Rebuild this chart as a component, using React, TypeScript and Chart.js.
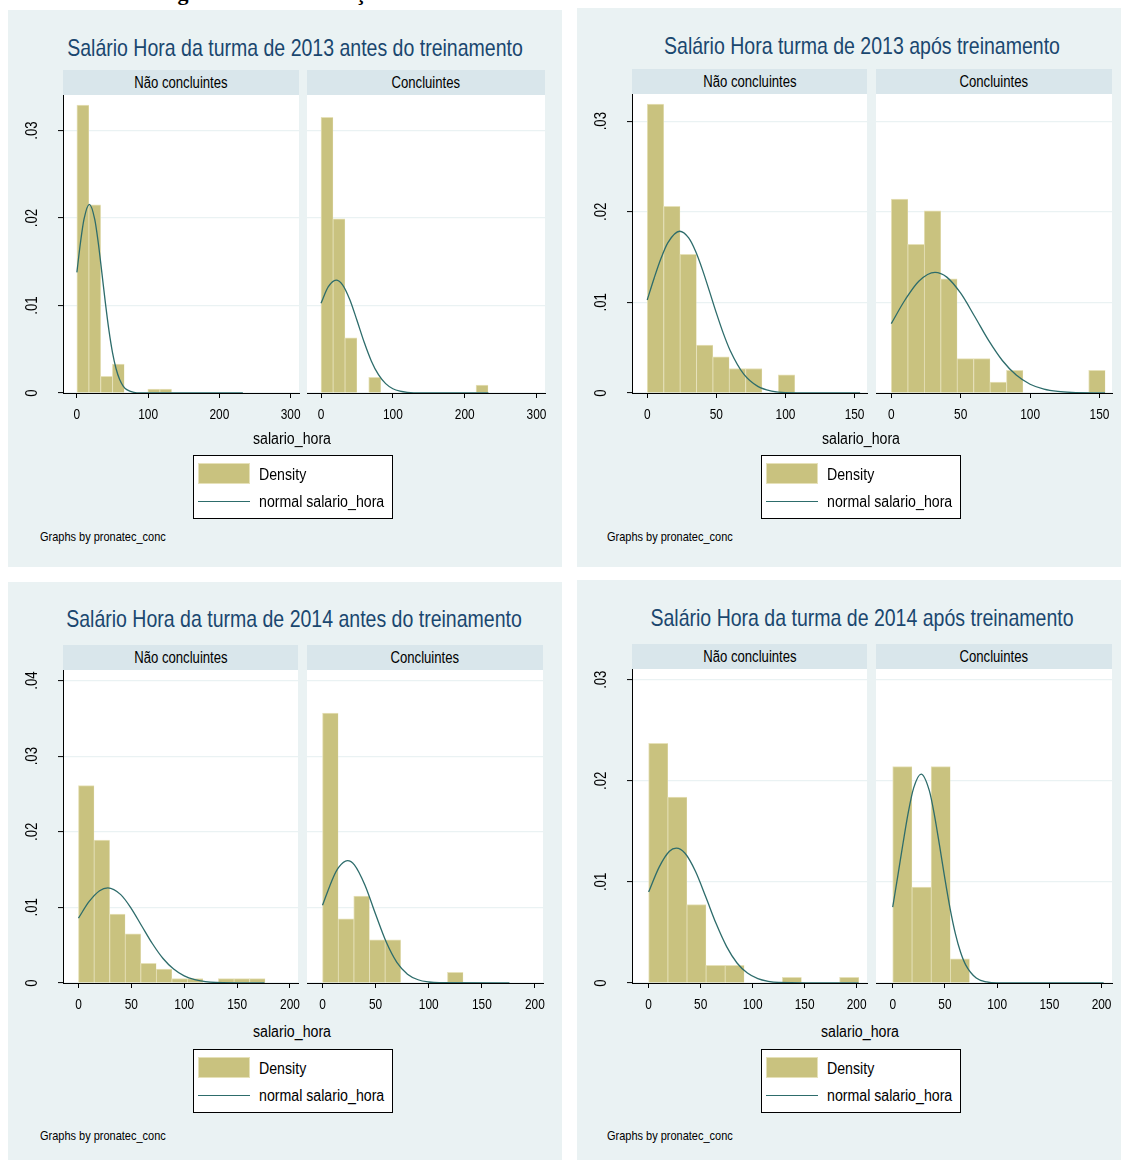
import React, { useEffect, useRef } from "react";
import { Chart, registerables } from "chart.js";

Chart.register(...registerables);

const FONT = '"Liberation Sans", Arial, sans-serif';
const NARROW = 0.82; // Arial Narrow look from Liberation Sans
const BAR_FILL = "#C9C27F";
const BAR_EDGE = "#E6E1B9";
const LINE_COLOR = "#2D6C6B";
const TITLE_COLOR = "#1A476F";
const PANEL_BG = "#EAF2F3";
const STRIP_BG = "#D9E6EB";
const GRID_COLOR = "#EAF2F3";

// ---------- text ----------
const PANEL_TITLES = [
  "Salário Hora da turma de 2013 antes do treinamento",
  "Salário Hora turma de 2013 após treinamento",
  "Salário Hora da turma de 2014 antes do treinamento",
  "Salário Hora da turma de 2014 após treinamento",
];
const GROUPS = ["Não concluintes", "Concluintes"];
const X_TITLE = "salario_hora";
const LEGEND_LABELS = ["Density", "normal salario_hora"];
const NOTE = "Graphs by pronatec_conc";

// ---------- axes ----------
const X_TICKS_2013_ANTES = [0, 100, 200, 300];
const X_TICKS_2013_APOS = [0, 50, 100, 150];
const X_TICKS_2014 = [0, 50, 100, 150, 200];
const Y_TICKS_3 = [0, 0.01, 0.02, 0.03];
const Y_LABELS_3 = ["0", ".01", ".02", ".03"];
const Y_TICKS_4 = [0, 0.01, 0.02, 0.03, 0.04];
const Y_LABELS_4 = ["0", ".01", ".02", ".03", ".04"];

// ---------- 2013 antes ----------
const BINS_2013_ANTES = [0, 16.6, 33.2, 49.8, 66.4, 83, 99.6, 116.2, 132.8, 149.4, 166, 182.6, 199.2, 215.8];
const BIN_W_2013_ANTES = 16.6;
const DENS_2013_ANTES_NC = [0.0329, 0.0215, 0.0019, 0.0033, 0, 0, 0.00046, 0.00046, 0, 0, 0, 0, 0, 0];
const DENS_2013_ANTES_C = [0.0315, 0.0199, 0.0063, 0, 0.0018, 0, 0, 0, 0, 0, 0, 0, 0, 0.0009];
const NORM_X_2013_ANTES_NC = [0, 5, 10, 17.5, 25, 30, 35, 40, 45, 50, 55, 60, 65, 70, 80, 90, 233];
const NORM_Y_2013_ANTES_NC = [0.01379, 0.01717, 0.01987, 0.02157, 0.01987, 0.01717, 0.01379, 0.0103, 0.00715, 0.00461, 0.00277, 0.00154, 0.0008, 0.000385, 0.00007, 0.00001, 0];
const NORM_X_2013_ANTES_C = [0, 10, 21, 30, 40, 50, 60, 70, 80, 90, 100, 110, 120, 140, 233];
const NORM_Y_2013_ANTES_C = [0.01025, 0.01212, 0.01291, 0.01237, 0.01069, 0.00831, 0.00582, 0.00367, 0.00209, 0.00107, 0.00049, 0.000204, 0.000076, 0.0000078, 0];

// ---------- 2013 após ----------
const BINS_2013_APOS = [0, 11.85, 23.7, 35.55, 47.4, 59.25, 71.1, 82.95, 94.8, 106.65, 118.5, 130.35, 142.2];
const BIN_W_2013_APOS = 11.85;
const DENS_2013_APOS_NC = [0.0319, 0.0206, 0.0153, 0.0053, 0.004, 0.0027, 0.0027, 0, 0.002, 0, 0, 0, 0];
const DENS_2013_APOS_C = [0.0214, 0.0164, 0.0201, 0.0126, 0.0038, 0.0038, 0.0012, 0.0025, 0, 0, 0, 0, 0.0025];
const NORM_X_2013_APOS_NC = [0, 5, 10, 15, 23.5, 30, 35, 40, 45, 50, 55, 60, 70, 80, 90, 100, 154];
const NORM_Y_2013_APOS_NC = [0.01027, 0.01267, 0.01487, 0.0166, 0.01785, 0.01711, 0.01564, 0.01359, 0.01124, 0.00884, 0.00661, 0.0047, 0.00205, 0.00073, 0.000213, 0.000051, 0];
const NORM_X_2013_APOS_C = [0, 10, 20, 31.5, 40, 50, 60, 70, 80, 90, 100, 110, 120, 130, 154];
const NORM_Y_2013_APOS_C = [0.00766, 0.01029, 0.01237, 0.01332, 0.01279, 0.01101, 0.00847, 0.00583, 0.00359, 0.00198, 0.00097, 0.00043, 0.00017, 0.00006, 0.000003];

// ---------- 2014 antes ----------
const BINS_2014_ANTES = [0, 14.7, 29.4, 44.1, 58.8, 73.5, 88.2, 102.9, 117.6, 132.3, 147, 161.7];
const BIN_W_2014_ANTES = 14.7;
const DENS_2014_ANTES_NC = [0.0261, 0.0189, 0.0091, 0.0065, 0.0026, 0.00185, 0.00057, 0.00057, 0, 0.00057, 0.00057, 0.00057];
const DENS_2014_ANTES_C = [0.0357, 0.0085, 0.0115, 0.0057, 0.0057, 0, 0, 0, 0.0014, 0, 0, 0];
const NORM_X_2014_ANTES_NC = [0, 10, 20, 27.8, 40, 50, 60, 70, 80, 90, 100, 110, 120, 130, 176];
const NORM_Y_2014_ANTES_NC = [0.00857, 0.01075, 0.01221, 0.012585, 0.01169, 0.00985, 0.00751, 0.00519, 0.00324, 0.00184, 0.00094, 0.00044, 0.000183, 0.00007, 0];
const NORM_X_2014_ANTES_C = [0, 10, 15, 23.5, 30, 40, 50, 60, 70, 80, 90, 100, 110, 176];
const NORM_Y_2014_ANTES_C = [0.01027, 0.01393, 0.01525, 0.01618, 0.01563, 0.01293, 0.00908, 0.00541, 0.00273, 0.00117, 0.00043, 0.00013, 0.000034, 0];

// ---------- 2014 após ----------
const BINS_2014_APOS = [0, 18.36, 36.72, 55.08, 73.44, 91.8, 110.16, 128.52, 146.88, 165.24, 183.6];
const BIN_W_2014_APOS = 18.36;
const DENS_2014_APOS_NC = [0.0237, 0.0184, 0.00775, 0.00174, 0.00174, 0, 0, 0.00055, 0, 0, 0.00055];
const DENS_2014_APOS_C = [0.0214, 0.0095, 0.0214, 0.0024, 0, 0, 0, 0, 0, 0, 0];
const NORM_X_2014_APOS_NC = [0, 10, 20, 26.6, 35, 45, 55, 65, 75, 85, 95, 105, 115, 125, 202];
const NORM_Y_2014_APOS_NC = [0.00899, 0.01144, 0.01303, 0.01335, 0.01283, 0.01105, 0.0085, 0.00585, 0.0036, 0.00198, 0.00098, 0.00043, 0.00017, 0.00006, 0];
const NORM_X_2014_APOS_C = [0, 5, 10, 15, 20, 27.2, 35, 40, 45, 50, 55, 60, 65, 70, 80, 90, 100, 202];
const NORM_Y_2014_APOS_C = [0.0075, 0.01067, 0.0139, 0.01693, 0.01928, 0.02067, 0.01905, 0.01659, 0.01351, 0.01029, 0.00733, 0.00488, 0.00304, 0.00177, 0.00049, 0.000104, 0.0000168, 0];

// ---------- layout (positions only) ----------
type Layout = {
  bg: { x: number; y: number; w: number; h: number };
  titleCx: number; titleCy: number;
  plotTop: number; plotBottom: number;
  nc: [number, number]; c: [number, number];
  xMin: number; xMax: number; yMax: number;
  axisCx: number; axisCy: number;
  legend: { x: number; y: number };
  noteX: number; noteCy: number;
};

const LAYOUTS: Layout[] = [
  { bg: { x: 8, y: 10, w: 554, h: 557 }, titleCx: 295, titleCy: 47, plotTop: 95, plotBottom: 393, nc: [63, 299], c: [307, 545], xMin: -19.5, xMax: 311.8, yMax: 0.03406, axisCx: 292, axisCy: 438, legend: { x: 193, y: 455 }, noteX: 40, noteCy: 536 },
  { bg: { x: 577, y: 8, w: 544, h: 559 }, titleCx: 862, titleCy: 45, plotTop: 94, plotBottom: 393, nc: [632, 867], c: [876, 1112], xMin: -11, xMax: 159, yMax: 0.033, axisCx: 861, axisCy: 438, legend: { x: 761, y: 455 }, noteX: 607, noteCy: 536 },
  { bg: { x: 8, y: 582, w: 554, h: 578 }, titleCx: 294, titleCy: 618, plotTop: 670, plotBottom: 983, nc: [63, 298], c: [307, 543], xMin: -14.6, xMax: 207.6, yMax: 0.0414, axisCx: 292, axisCy: 1031, legend: { x: 193, y: 1049 }, noteX: 40, noteCy: 1135 },
  { bg: { x: 577, y: 580, w: 544, h: 580 }, titleCx: 862, titleCy: 617, plotTop: 669, plotBottom: 983, nc: [632, 867], c: [876, 1112], xMin: -16, xMax: 210, yMax: 0.03106, axisCx: 860, axisCy: 1031, legend: { x: 761, y: 1049 }, noteX: 607, noteCy: 1135 },
];

type Series = { bins: number[]; binW: number; dens: number[]; nx: number[]; ny: number[] };
type PanelData = { xTicks: number[]; yTicks: number[]; yLabels: string[]; nc: Series; c: Series };

const PANEL_DATA: PanelData[] = [
  {
    xTicks: X_TICKS_2013_ANTES, yTicks: Y_TICKS_3, yLabels: Y_LABELS_3,
    nc: { bins: BINS_2013_ANTES, binW: BIN_W_2013_ANTES, dens: DENS_2013_ANTES_NC, nx: NORM_X_2013_ANTES_NC, ny: NORM_Y_2013_ANTES_NC },
    c: { bins: BINS_2013_ANTES, binW: BIN_W_2013_ANTES, dens: DENS_2013_ANTES_C, nx: NORM_X_2013_ANTES_C, ny: NORM_Y_2013_ANTES_C },
  },
  {
    xTicks: X_TICKS_2013_APOS, yTicks: Y_TICKS_3, yLabels: Y_LABELS_3,
    nc: { bins: BINS_2013_APOS, binW: BIN_W_2013_APOS, dens: DENS_2013_APOS_NC, nx: NORM_X_2013_APOS_NC, ny: NORM_Y_2013_APOS_NC },
    c: { bins: BINS_2013_APOS, binW: BIN_W_2013_APOS, dens: DENS_2013_APOS_C, nx: NORM_X_2013_APOS_C, ny: NORM_Y_2013_APOS_C },
  },
  {
    xTicks: X_TICKS_2014, yTicks: Y_TICKS_4, yLabels: Y_LABELS_4,
    nc: { bins: BINS_2014_ANTES, binW: BIN_W_2014_ANTES, dens: DENS_2014_ANTES_NC, nx: NORM_X_2014_ANTES_NC, ny: NORM_Y_2014_ANTES_NC },
    c: { bins: BINS_2014_ANTES, binW: BIN_W_2014_ANTES, dens: DENS_2014_ANTES_C, nx: NORM_X_2014_ANTES_C, ny: NORM_Y_2014_ANTES_C },
  },
  {
    xTicks: X_TICKS_2014, yTicks: Y_TICKS_3, yLabels: Y_LABELS_3,
    nc: { bins: BINS_2014_APOS, binW: BIN_W_2014_APOS, dens: DENS_2014_APOS_NC, nx: NORM_X_2014_APOS_NC, ny: NORM_Y_2014_APOS_NC },
    c: { bins: BINS_2014_APOS, binW: BIN_W_2014_APOS, dens: DENS_2014_APOS_C, nx: NORM_X_2014_APOS_C, ny: NORM_Y_2014_APOS_C },
  },
];

const plotBg = {
  id: "plotBg",
  beforeDraw(chart: any) {
    const { ctx, chartArea: a } = chart;
    ctx.save();
    ctx.fillStyle = "#ffffff";
    ctx.fillRect(a.left, a.top, a.right - a.left, a.bottom - a.top);
    ctx.restore();
  },
};

// Stata-like narrow tick labels, placed with the chart's own scales
function makeTickLabelPlugin(xTicks: number[], yTicks: number[], yLabels: string[], showY: boolean) {
  const X_SIZE = 14.5;
  const Y_SIZE = 16;
  return {
    id: "narrowTickLabels",
    afterDraw(chart: any) {
      const { ctx, chartArea } = chart;
      const xs = chart.scales.x;
      const ys = chart.scales.y;
      ctx.save();
      ctx.fillStyle = "#000";
      ctx.textAlign = "center";
      ctx.textBaseline = "alphabetic";
      ctx.font = `${X_SIZE}px ${FONT}`;
      xTicks.forEach((v) => {
        const px = xs.getPixelForValue(v);
        ctx.save();
        ctx.translate(px, chartArea.bottom + 25.5);
        ctx.scale(NARROW, 1);
        ctx.fillText(String(v), 0, 0);
        ctx.restore();
      });
      if (showY) {
        ctx.font = `${Y_SIZE}px ${FONT}`;
        yTicks.forEach((v, i) => {
          const py = ys.getPixelForValue(v);
          ctx.save();
          ctx.translate(chartArea.left - 26, py);
          ctx.rotate(-Math.PI / 2);
          ctx.scale(NARROW, 1);
          ctx.fillText(yLabels[i], 0, 0);
          ctx.restore();
        });
      }
      ctx.restore();
    },
  };
}

const PAD_L = 58, PAD_R = 26, PAD_T = 20, PAD_B = 34;

function SubPlot(props: {
  left: number; right: number; top: number; bottom: number; showY: boolean;
  xMin: number; xMax: number; yMax: number; xTicks: number[]; yTicks: number[]; yLabels: string[]; s: Series;
}) {
  const ref = useRef<HTMLCanvasElement>(null);
  const { left, right, top, bottom, showY, xMin, xMax, yMax, xTicks, yTicks, yLabels, s } = props;
  const padL = showY ? PAD_L : 0;
  const w = right - left + padL + PAD_R;
  const h = bottom - top + PAD_T + PAD_B;

  useEffect(() => {
    if (!ref.current) return;
    const chart = new Chart(ref.current, {
      type: "bar",
      data: {
        datasets: [
          {
            type: "line",
            data: s.nx.map((x, i) => ({ x, y: s.ny[i] })),
            borderColor: LINE_COLOR,
            borderWidth: 1.3,
            pointRadius: 0,
            fill: false,
            cubicInterpolationMode: "monotone",
            order: 0,
          } as any,
          {
            type: "bar",
            data: s.bins.map((b, i) => ({ x: b + s.binW / 2, y: s.dens[i] })),
            backgroundColor: BAR_FILL,
            borderColor: BAR_EDGE,
            borderWidth: { top: 1, left: 1, right: 0.5, bottom: 0 },
            borderSkipped: false,
            barPercentage: 1,
            categoryPercentage: 1,
            order: 1,
          } as any,
        ],
      },
      options: {
        responsive: false,
        maintainAspectRatio: false,
        animation: false,
        events: [],
        layout: { padding: { left: 0, right: PAD_R, top: PAD_T, bottom: 0 } },
        plugins: { legend: { display: false }, tooltip: { enabled: false }, title: { display: false } },
        scales: {
          x: {
            type: "linear",
            min: xMin,
            max: xMax,
            offset: false,
            afterBuildTicks: (sc: any) => { sc.ticks = xTicks.map((v) => ({ value: v })); },
            afterFit: (sc: any) => { sc.height = PAD_B; },
            grid: { display: true, drawOnChartArea: false, drawTicks: true, tickLength: 5, tickColor: "#000", tickWidth: 1, offset: false },
            border: { display: true, color: "#000", width: 1, z: 1 },
            ticks: { display: false },
          } as any,
          y: {
            type: "linear",
            min: 0,
            max: yMax,
            afterBuildTicks: (sc: any) => { sc.ticks = yTicks.map((v) => ({ value: v })); },
            afterFit: (sc: any) => { sc.width = padL; },
            grid: { color: GRID_COLOR, lineWidth: 1.2, drawTicks: showY, tickLength: 5, tickColor: "#000", tickWidth: 1 },
            border: { display: showY, color: "#000", width: 1, z: 1 },
            ticks: { display: false },
          } as any,
        },
      },
      plugins: [plotBg, makeTickLabelPlugin(xTicks, yTicks, yLabels, showY)],
    });
    return () => chart.destroy();
  }, []);

  return (
    <canvas
      ref={ref}
      width={w}
      height={h}
      style={{ position: "absolute", left: left - padL, top: top - PAD_T, width: w, height: h }}
    />
  );
}

function Txt(props: { x: number; cy: number; size: number; color?: string; center?: boolean; children: React.ReactNode }) {
  const lh = Math.round(props.size * 1.4);
  return (
    <div
      style={{
        position: "absolute",
        left: props.x,
        top: props.cy - lh / 2,
        height: lh,
        lineHeight: lh + "px",
        fontSize: props.size,
        color: props.color || "#000",
        fontFamily: FONT,
        whiteSpace: "nowrap",
        transformOrigin: props.center ? "center center" : "left center",
        transform: props.center ? `translateX(-50%) scaleX(${NARROW})` : `scaleX(${NARROW})`,
      }}
    >
      {props.children}
    </div>
  );
}

function Panel({ idx }: { idx: number }) {
  const L = LAYOUTS[idx];
  const D = PANEL_DATA[idx];
  const common = { top: L.plotTop, bottom: L.plotBottom, xMin: L.xMin, xMax: L.xMax, yMax: L.yMax, xTicks: D.xTicks, yTicks: D.yTicks, yLabels: D.yLabels };
  const strips: [number, number, string][] = [
    [L.nc[0], L.nc[1], GROUPS[0]],
    [L.c[0], L.c[1], GROUPS[1]],
  ];
  return (
    <>
      <div style={{ position: "absolute", left: L.bg.x, top: L.bg.y, width: L.bg.w, height: L.bg.h, background: PANEL_BG }} />
      <Txt x={L.titleCx} cy={L.titleCy} size={23.8} color={TITLE_COLOR} center>{PANEL_TITLES[idx]}</Txt>
      {strips.map(([a, b, label], i) => (
        <div
          key={i}
          style={{
            position: "absolute", left: a, top: L.plotTop - 25, width: b - a, height: 25,
            background: STRIP_BG, textAlign: "center", lineHeight: "25px", fontSize: 16, fontFamily: FONT, color: "#000",
          }}
        >
          <span style={{ display: "inline-block", transform: `scaleX(${NARROW})`, transformOrigin: "center center", whiteSpace: "nowrap" }}>{label}</span>
        </div>
      ))}
      <SubPlot {...common} left={L.nc[0]} right={L.nc[1]} showY={true} s={D.nc} />
      <SubPlot {...common} left={L.c[0]} right={L.c[1]} showY={false} s={D.c} />
      <Txt x={L.axisCx} cy={L.axisCy} size={17.3} center>{X_TITLE}</Txt>
      <div
        style={{
          position: "absolute", left: L.legend.x, top: L.legend.y, width: 200, height: 64,
          background: "#fff", border: "1px solid #000", boxSizing: "border-box",
        }}
      >
        <div style={{ position: "absolute", left: 4, top: 7, width: 52, height: 21, background: BAR_FILL, border: "1px solid " + BAR_EDGE, boxSizing: "border-box" }} />
        <Txt x={65} cy={18} size={17.3}>{LEGEND_LABELS[0]}</Txt>
        <div style={{ position: "absolute", left: 4, top: 45, width: 52, height: 0, borderTop: "1.5px solid " + LINE_COLOR }} />
        <Txt x={65} cy={45} size={17.3}>{LEGEND_LABELS[1]}</Txt>
      </div>
      <Txt x={L.noteX} cy={L.noteCy} size={13.4}>{NOTE}</Txt>
    </>
  );
}

export default function App() {
  return (
    <div style={{ position: "absolute", left: 0, top: 0, width: 1121, height: 1160, background: "#fff", overflow: "hidden" }}>
      <div style={{ position: "absolute", left: 0, top: 0, width: 1121, height: 6, overflow: "hidden" }}>
        <div
          style={{
            position: "absolute", left: 158, top: -18, lineHeight: "22px", fontSize: 22,
            fontFamily: '"Liberation Serif", "Times New Roman", serif', fontWeight: "bold", whiteSpace: "nowrap", color: "#000",
          }}
        >
          Figura 10 – Distribuição do salário hora
        </div>
      </div>
      {[0, 1, 2, 3].map((i) => (
        <Panel key={i} idx={i} />
      ))}
    </div>
  );
}
